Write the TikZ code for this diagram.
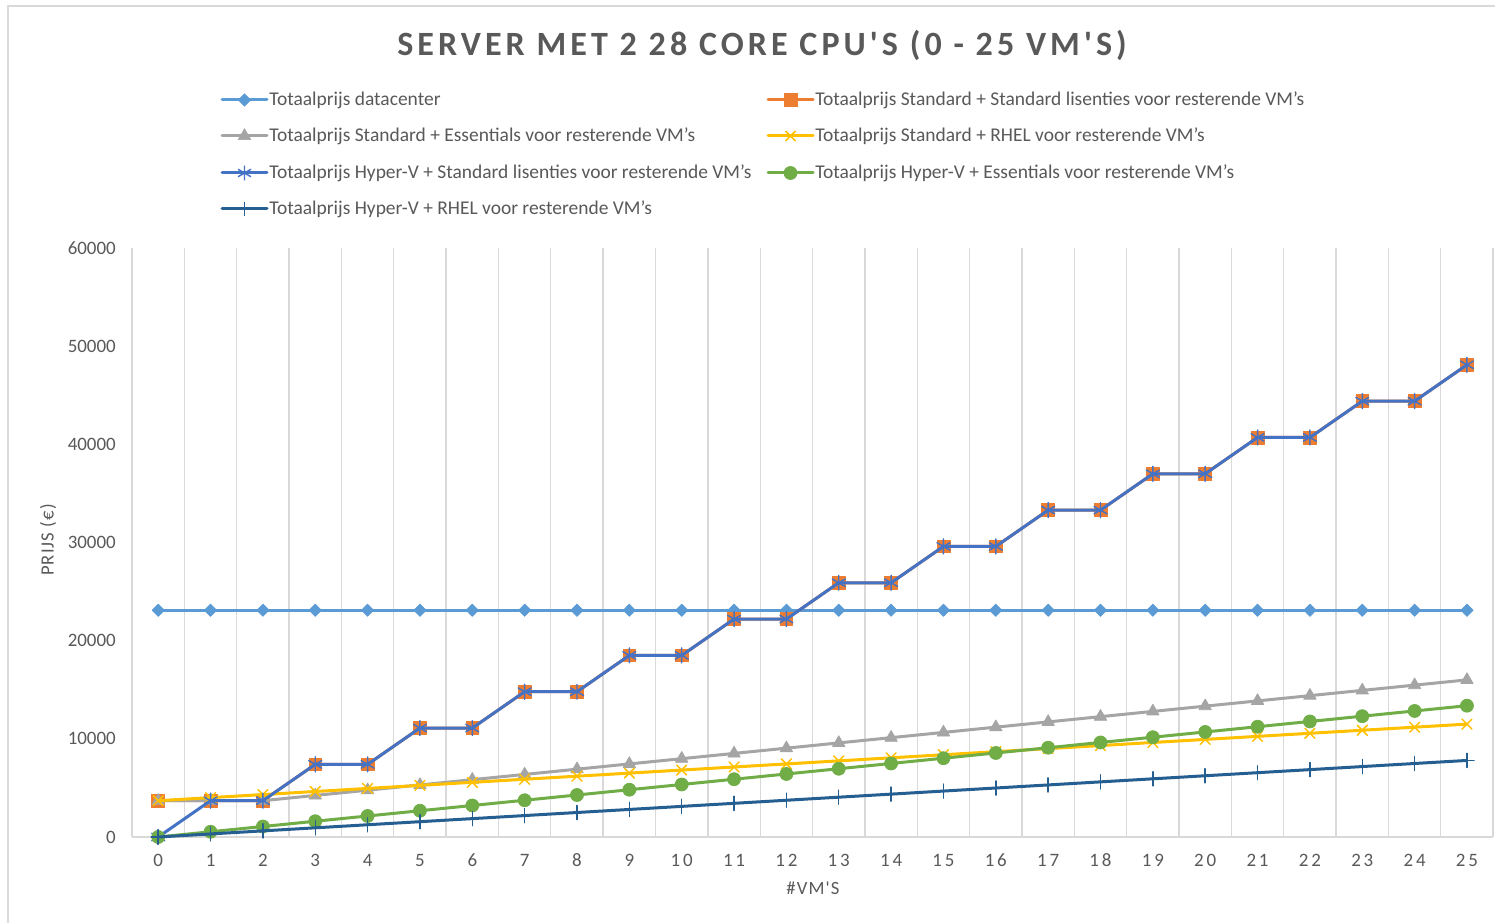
\documentclass[tikz,border=0pt]{standalone}
\usepackage{fontspec}
\setmainfont{Carlito}
\newfontfamily\titlefont[LetterSpace=12]{Carlito}
\newfontfamily\spacedfont[LetterSpace=15]{Carlito}
\newfontfamily\axtfont[LetterSpace=6]{Carlito}
\newcommand\ap{\char39\relax}
\usetikzlibrary{plotmarks}
\definecolor{txt}{HTML}{595959}
\definecolor{gridc}{HTML}{D9D9D9}
\definecolor{cdc}{HTML}{5B9BD5}
\definecolor{cor}{HTML}{ED7D31}
\definecolor{cgr}{HTML}{A5A5A5}
\definecolor{cye}{HTML}{FFC000}
\definecolor{cbl}{HTML}{4472C4}
\definecolor{cgn}{HTML}{70AD47}
\definecolor{cdb}{HTML}{255E91}
\tikzset{
  ser/.style={line width=2.25pt, line join=round, line cap=round},
  mdc/.style={mark=diamond*, mark size=4.6pt, mark options={xscale=1.33, draw=cdc, fill=cdc, line width=0.5pt, solid}},
  mor/.style={mark=square*, mark size=4.8pt, mark options={draw=cor, fill=cor, line width=0.5pt}},
  mgr/.style={mark=triangle*, mark size=5.4pt, mark options={draw=cgr, fill=cgr, line width=0.5pt}},
  mye/.style={mark=x, mark size=5.3pt, mark options={draw=cye, line width=1.1pt}},
  mbl/.style={mark=asterisk, mark size=5.6pt, mark options={draw=cbl, line width=1.1pt}},
  mgn/.style={mark=*, mark size=4.9pt, mark options={draw=cgn, fill=cgn, line width=0.5pt}},
  mdb/.style={mark=+, mark size=5.3pt, mark options={draw=cdb, line width=1.1pt}},
  gridline/.style={draw=gridc, line width=1pt},
  legtext/.style={anchor=west, text=txt, inner sep=0pt, font=\fontsize{14.6}{17}\selectfont},
  ylab/.style={anchor=east, text=txt, inner sep=0pt, font=\fontsize{14.2}{17}\selectfont},
  xlab/.style={anchor=center, text=txt, inner sep=0pt, font=\spacedfont\fontsize{14.2}{17}\selectfont},
  axt/.style={text=txt, inner sep=0pt, font=\axtfont\fontsize{14}{16}\selectfont},
}
\begin{document}
\begin{tikzpicture}[x=0.75pt,y=-0.75pt]
\useasboundingbox (0,0) rectangle (1495,923);
\fill[white] (0,0) rectangle (1495,923);
% chart border
\draw[gridline] (8,923) -- (8,6) -- (1495,6);
% title
\node[text=txt, inner sep=0pt, font=\titlefont\bfseries\fontsize{25.5}{30}\selectfont] (title) at (762,45) {SERVER MET 2 28 CORE CPU\ap S (0 - 25 VM\ap S)};
% legend
\draw[ser, cdc] (222,100) -- (267,100); \path[mdc] plot coordinates {(244.5,100)};
\node[legtext] (l1) at (269,100) {Totaalprijs datacenter};
\draw[ser, cor] (768,100) -- (813,100); \path[mor] plot coordinates {(790.5,100)};
\node[legtext] (l2) at (815,100) {Totaalprijs Standard + Standard lisenties voor resterende VM\ap s};
\draw[ser, cgr] (222,136) -- (267,136); \path[mgr] plot coordinates {(244.5,136)};
\node[legtext] (l3) at (269,136) {Totaalprijs Standard + Essentials voor resterende VM\ap s};
\draw[ser, cye] (768,136) -- (813,136); \path[mye] plot coordinates {(790.5,136)};
\node[legtext] (l4) at (815,136) {Totaalprijs Standard + RHEL voor resterende VM\ap s};
\draw[ser, cbl] (222,173) -- (267,173); \path[mbl] plot coordinates {(244.5,173)};
\node[legtext] (l5) at (269,173) {Totaalprijs Hyper-V + Standard lisenties voor resterende VM\ap s};
\draw[ser, cgn] (768,173) -- (813,173); \path[mgn] plot coordinates {(790.5,173)};
\node[legtext] (l6) at (815,173) {Totaalprijs Hyper-V + Essentials voor resterende VM\ap s};
\draw[ser, cdb] (222,209) -- (267,209); \path[mdb] plot coordinates {(244.5,209)};
\node[legtext] (l7) at (269,209) {Totaalprijs Hyper-V + RHEL voor resterende VM\ap s};
% grid
\foreach \k in {0,...,26} \draw[gridline] ({132+52.35*\k},248) -- ({132+52.35*\k},837);
\draw[gridline] (132,837) -- (1493,837);
% y labels
\foreach \v [count=\i from 0] in {0,10000,20000,30000,40000,50000,60000}
  \node[ylab] (y\i) at (116,{837-98.17*\i}) {\v};
% x labels
\foreach \k in {0,...,25}
  \node[xlab] (x\k) at ({158.2+52.35*\k},860) {\k};
% axis titles
\node[axt] (xt) at (813,888) {\#VM\ap S};
\node[axt, rotate=90] (yt) at (48,540) {PRIJS (€)};
% data
\begin{scope}[shift={(158.2,837)}, x=39.2625pt, y=7.3625pt]
  \draw[ser, cdc, mdc] plot[samples at={0,...,25}] (\x,23.1);
  \draw[ser, cor, mor] plot[samples at={0,...,25}] (\x,{3.7*max(1,ceil(\x/2))});
  \draw[ser, cgr, mgr] plot[samples at={0,...,25}] (\x,{3.7+0.535*max(0,\x-2)});
  \draw[ser, cye, mye] plot[samples at={0,...,25}] (\x,{3.7+0.312*\x});
  \draw[ser, cbl, mbl] plot[samples at={0,...,25}] (\x,{ifthenelse(\x==0,0,3.7*max(1,ceil(\x/2)))});
  \draw[ser, cgn, mgn] plot[samples at={0,...,25}] (\x,{0.535*\x});
  \draw[ser, cdb, mdb] plot[samples at={0,...,25}] (\x,{0.312*\x});
\end{scope}
\end{tikzpicture}
\end{document}
